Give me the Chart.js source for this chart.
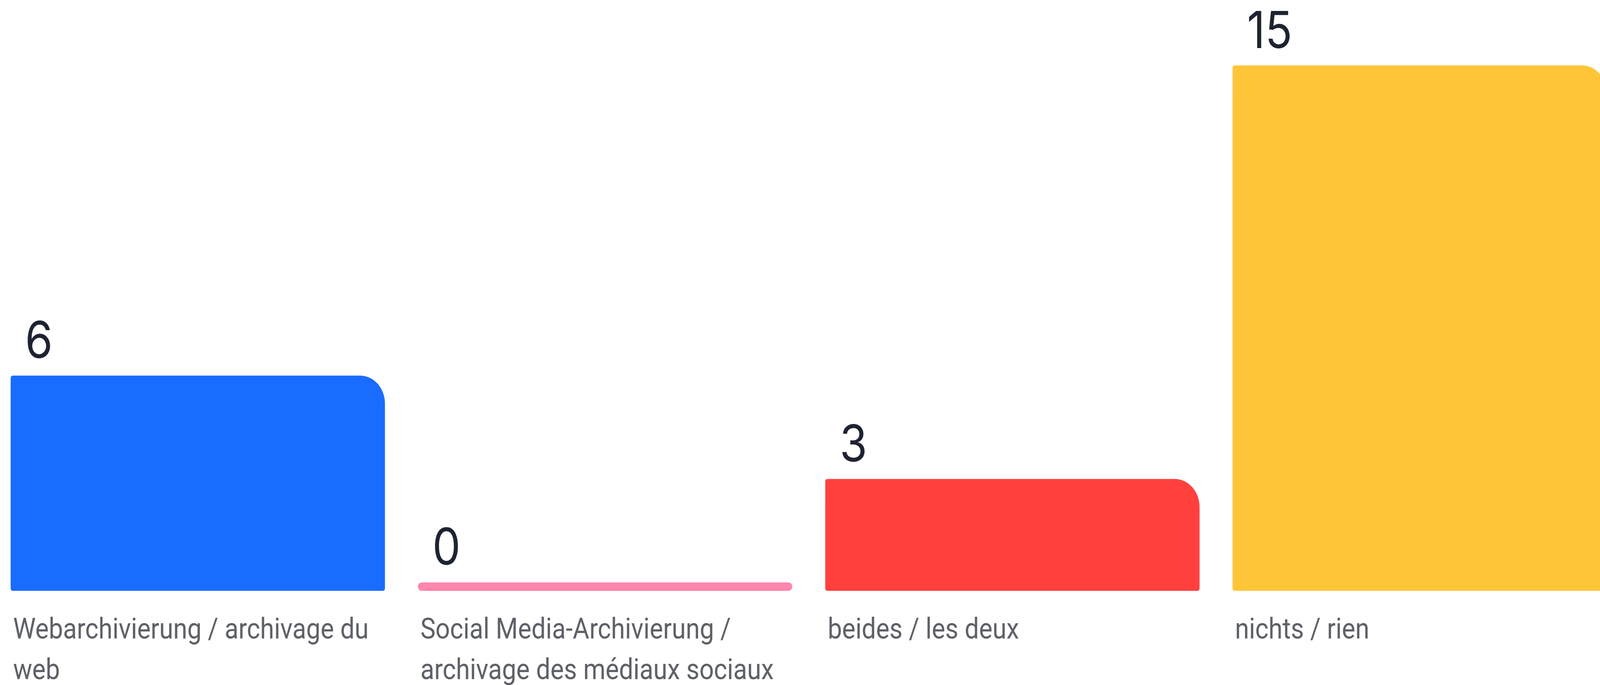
<!DOCTYPE html>
<html>
<head>
<meta charset="utf-8">
<script src="https://cdn.jsdelivr.net/npm/chart.js@4/dist/chart.umd.min.js"></script>
<style>
    html, body { margin: 0; padding: 0; background: #ffffff; overflow: hidden; }
    #frame { position: absolute; left: 0; top: 0; width: 4660px; height: 1753px; overflow: hidden; transform-origin: 0 0; }
    #answersChart { position: absolute; left: -17px; top: 0; }
</style>
</head>
<body>
<div id="frame">
    <canvas id="answersChart" width="4745" height="1753"></canvas>
</div>
<script>
// Answer options (labels split into the lines shown under each bar)
const categories = [
    ['Webarchivierung / archivage du', 'web'],
    ['Social Media-Archivierung /', 'archivage des médiaux sociaux'],
    ['beides / les deux'],
    ['nichts / rien']
];
const votes = [6, 0, 3, 15];
const barColors = ['#1a6cff', '#ff86ad', '#ff403d', '#fec539'];

document.addEventListener('DOMContentLoaded', function () {

    // The picture is 4660 wide; squeeze it into a narrower window if needed
    const frame = document.getElementById('frame');
    const k = Math.min(1, window.innerWidth / 4660);
    frame.style.transform = 'scaleX(' + k + ')';

    const canvas = document.getElementById('answersChart');

    // Value written above the left part of each bar
    const valueLabels = {
        id: 'valueLabels',
        afterDatasetsDraw: function (chart) {
            const ctx = chart.ctx;
            const meta = chart.getDatasetMeta(0);
            ctx.save();
            ctx.font = '130px Inter';
            ctx.fillStyle = '#1e2331';
            ctx.textAlign = 'left';
            ctx.textBaseline = 'alphabetic';
            meta.data.forEach(function (bar, i) {
                const left = bar.x - bar.width / 2;
                ctx.fillText(String(votes[i]), left + 42, bar.y - 45);
            });
            ctx.restore();
        }
    };

    new Chart(canvas, {
        type: 'bar',
        data: {
            labels: categories,
            datasets: [{
                data: votes,
                backgroundColor: barColors,
                base: -0.245,
                borderSkipped: false,
                borderRadius: function (c) {
                    // an empty answer is shown as a thin pill
                    if (c.raw === 0) return 50;
                    return { topLeft: 6, topRight: 72, bottomLeft: 6, bottomRight: 6 };
                },
                barPercentage: 0.919,
                categoryPercentage: 1
            }]
        },
        options: {
            responsive: false,
            animation: false,
            devicePixelRatio: 1,
            layout: { padding: 0 },
            plugins: {
                legend: { display: false },
                tooltip: { enabled: false }
            },
            scales: {
                x: {
                    grid: { display: false, drawTicks: false },
                    border: { display: false },
                    afterFit: function (scale) { scale.height = 241; },
                    ticks: {
                        align: 'start',
                        labelOffset: -538,
                        padding: 52,
                        autoSkip: false,
                        maxRotation: 0,
                        color: '#5e6068',
                        font: { family: 'Roboto', size: 74, lineHeight: 1.4 }
                    }
                },
                y: {
                    display: false,
                    min: -0.245,
                    max: 16.9
                }
            }
        },
        plugins: [valueLabels]
    });
});
</script>
</body>
</html>
